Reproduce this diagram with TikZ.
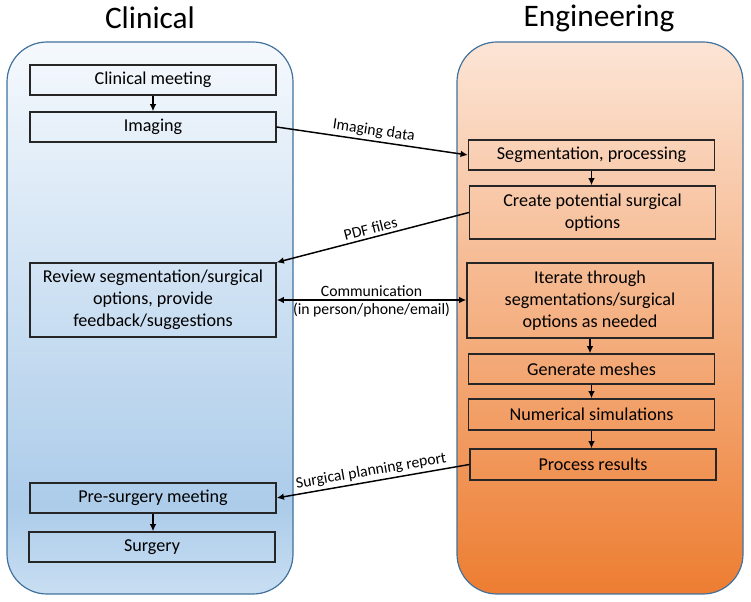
\documentclass[tikz,border=0pt]{standalone}
\usepackage{fontspec}
\setmainfont{Carlito}
\usetikzlibrary{arrows.meta}

\definecolor{panelline}{RGB}{65,113,156}
\definecolor{bluetop}{RGB}{245,249,253}
\definecolor{bluemid}{RGB}{172,204,234}
\definecolor{bluebot}{RGB}{200,222,242}
\definecolor{orangetop}{RGB}{252,229,214}
\definecolor{orangebot}{RGB}{237,125,49}
\definecolor{boxline}{RGB}{38,38,38}

\pgfdeclareverticalshading{clinshade}{100bp}{color(0bp)=(bluebot); color(25bp)=(bluebot); color(33bp)=(bluemid); color(75bp)=(bluetop); color(100bp)=(bluetop)}

\tikzset{
  box/.style={draw=boxline, line width=0.9pt, minimum width=184.5pt, minimum height=22.5pt, align=center, inner sep=2pt, font=\fontsize{13.6}{16.5}\selectfont},
  flow/.style={-{Latex[length=5.5pt,width=5pt]}, line width=1.1pt},
  lbl/.style={font=\fontsize{11.8}{14}\selectfont, inner sep=2pt},
  title/.style={font=\fontsize{23.5}{28}\selectfont},
}

\begin{document}
\begin{tikzpicture}[x=0.75pt,y=0.75pt,yscale=-1,xscale=1]
\useasboundingbox (0,0) rectangle (751,602);

%Shape: Rounded Rect [clinical panel]
\shade[shading=clinshade, rounded corners=30pt] (7,42) rectangle (293,594);
\draw[panelline, line width=0.9pt, rounded corners=30pt] (7,42) rectangle (293,594);
%Shape: Rounded Rect [engineering panel]
\shade[top color=orangetop, bottom color=orangebot, rounded corners=30pt] (457,42) rectangle (743,594);
\draw[panelline, line width=0.9pt, rounded corners=30pt] (457,42) rectangle (743,594);

% Text Node
\node (clintitle) at (150,18) [title] {Clinical};
% Text Node
\node (engtitle) at (599,18) [title] {Engineering};

%Shape: Rectangle [clinical side]
\node (clin) at (153,80) [box] {Clinical meeting};
\node (imag) at (153,127) [box] {Imaging};
\node (review) at (153,300) [box, minimum height=55.5pt] {Review segmentation/surgical\\options, provide\\feedback/suggestions};
\node (presurg) at (153,498) [box] {Pre-surgery meeting};
\node (surg) at (152,547) [box] {Surgery};

%Shape: Rectangle [engineering side]
\node (seg) at (591.5,155) [box] {Segmentation, processing};
\node (create) at (592.5,212.5) [box, minimum height=39.75pt] {Create potential surgical\\options};
\node (iter) at (590,300.5) [box, minimum height=56.25pt] {Iterate through\\segmentations/surgical\\options as needed};
\node (mesh) at (591.5,369) [box] {Generate meshes};
\node (numsim) at (591.5,414.5) [box, minimum height=23.25pt] {Numerical simulations};
\node (proc) at (593,464.5) [box, minimum height=23.25pt] {Process results};

%Straight Lines [down the columns]
\draw[flow] (clin.south) -- (clin.south |- imag.north);
\draw[flow] (presurg.south) -- (presurg.south |- surg.north);
\draw[flow] (seg.south) -- (seg.south |- create.north);
\draw[flow] (iter.south) -- (iter.south |- mesh.north);
\draw[flow] (mesh.south) -- (mesh.south |- numsim.north);
\draw[flow] (numsim.south) -- (numsim.south |- proc.north);

%Straight Lines [between the columns]
\draw[flow] (imag.east) -- node[lbl, rotate=-8.3, anchor=south] {Imaging data} (seg.west);
\draw[flow] (create.west) -- node[lbl, rotate=14.5, anchor=south] {PDF files} (review.north east);
\draw[flow, {Latex[length=5.5pt,width=5pt]}-{Latex[length=5.5pt,width=5pt]}] (review.east) -- node[lbl, above] {Communication} node[lbl, below] {(in person/phone/email)} (review.east -| iter.west);
\draw[flow] (proc.west) -- node[lbl, rotate=9.9, anchor=south] {Surgical planning report} (presurg.east);

\end{tikzpicture}
\end{document}
